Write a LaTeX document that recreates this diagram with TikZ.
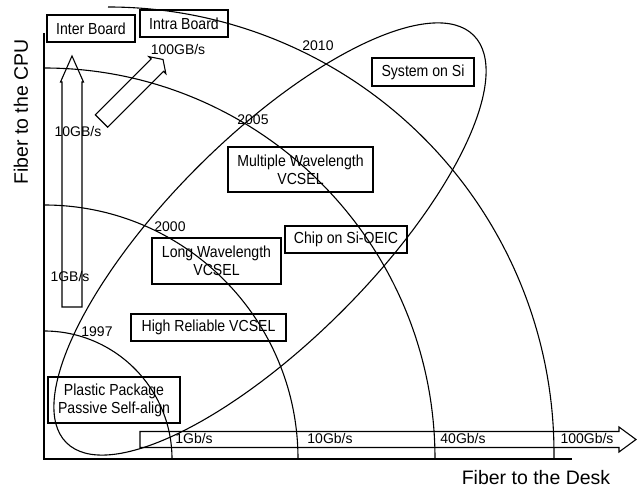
\documentclass[tikz,border=0pt]{standalone}
\usepackage{fontspec}
\setmainfont{Liberation Sans}
\newfontfamily\narrowsans[FakeStretch=0.88]{Liberation Sans}
\usetikzlibrary{positioning,calc}

\tikzset{
  techbox/.style={draw,line width=1.6pt,align=center,inner sep=0pt,
    font=\narrowsans\fontsize{16}{18}\selectfont},
  ratelbl/.style={inner sep=0pt,font=\fontsize{14}{16}\selectfont},
  yearlbl/.style={inner sep=0pt,font=\fontsize{14}{16}\selectfont},
  axislbl/.style={inner sep=0pt,font=\fontsize{19.5}{22}\selectfont},
  trend/.style={line width=1.1pt},
  hollow/.style={line width=1.1pt,line join=miter},
}

\begin{document}
\begin{tikzpicture}[x=1pt,y=1pt]
  \useasboundingbox (0,0) rectangle (637,489);

  % ---- Axes --------------------------------------------------
  \draw[line width=1.8pt] (44,456) -- (44,30) -- (572,30);
  \node[axislbl,rotate=90] (cpuaxis) at (21,377) {Fiber to the CPU};
  \node[axislbl,anchor=base] (deskaxis) at (536,4) {Fiber to the Desk};

  % ---- Generation arcs ---------------------------------------
  \draw[trend] (44,158) arc (90:0:128);
  \draw[trend] (44,284) arc (90:0:254);
  \draw[trend] (44,421) arc (90:0:391);
  \draw[trend] (108,482) arc (90:-0.8:446);

  % ---- Technology ellipse ------------------------------------
  \draw[trend,rotate around={45:(270,250)}] (270,250) ellipse (288 and 102);

  % ============================================================
  %  Hollow bandwidth arrows
  % ============================================================
  % Vertical: inter board
  \draw[hollow] (62,182) -- (62,407) -- (60.5,407) -- (72,433)
    -- (83.5,407) -- (82,407) -- (82,182) -- cycle;
  % Diagonal: intra board
  \begin{scope}[shift={(101.5,368)},rotate=45]
    \draw[hollow] (0,-8.8) -- (79,-8.8) -- (79,-12) -- (87,0)
      -- (79,12) -- (79,8.8) -- (0,8.8) -- cycle;
  \end{scope}
  % Horizontal: desk
  \draw[hollow] (140,41.5) -- (619,41.5) -- (619,37) -- (636,49.5)
    -- (619,62) -- (619,57.5) -- (140,57.5) -- cycle;

  % ---- Rate labels -------------------------------------------
  \node[ratelbl] (r100GB) at (178,439) {100GB/s};
  \node[ratelbl] (r10GB)  at (78,357)  {10GB/s};
  \node[ratelbl] (r1GB)   at (70,212)  {1GB/s};
  \node[ratelbl] (r1Gb)   at (194,50)  {1Gb/s};
  \node[ratelbl] (r10Gb)  at (330,50)  {10Gb/s};
  \node[ratelbl] (r40Gb)  at (463,50)  {40Gb/s};
  \node[ratelbl] (r100Gb) at (587,50)  {100Gb/s};

  % ---- Year labels -------------------------------------------
  \node[yearlbl] (y2010) at (318,443) {2010};
  \node[yearlbl] (y2005) at (253,369) {2005};
  \node[yearlbl] (y2000) at (170,262) {2000};
  \node[yearlbl] (y1997) at (97,157)  {1997};

  % ============================================================
  %  Technology boxes
  % ============================================================
  \node[techbox,minimum width=88pt,minimum height=27pt] (inter)
    at (91,460.5) {Inter Board};
  \node[techbox,minimum width=88pt,minimum height=27pt] (intra)
    at (184,465.5) {Intra Board};
  \node[techbox,minimum width=102pt,minimum height=28pt] (syssi)
    at (423,417) {System on Si};
  \node[techbox,minimum width=145pt,minimum height=45pt] (multiwl)
    at (300.5,319.5) {Multiple Wavelength\\VCSEL};
  \node[techbox,minimum width=122pt,minimum height=27pt] (chipsi)
    at (346,249.5) {Chip on Si-OEIC};
  \node[techbox,minimum width=129pt,minimum height=46pt] (longwl)
    at (216.5,228) {Long Wavelength\\VCSEL};
  \node[techbox,minimum width=155pt,minimum height=27pt] (highrel)
    at (208.5,161.5) {High Reliable VCSEL};
  \node[techbox,minimum width=132pt,minimum height=46pt] (plastic)
    at (114,89) {Plastic Package\\Passive Self-align};

\end{tikzpicture}
\end{document}
